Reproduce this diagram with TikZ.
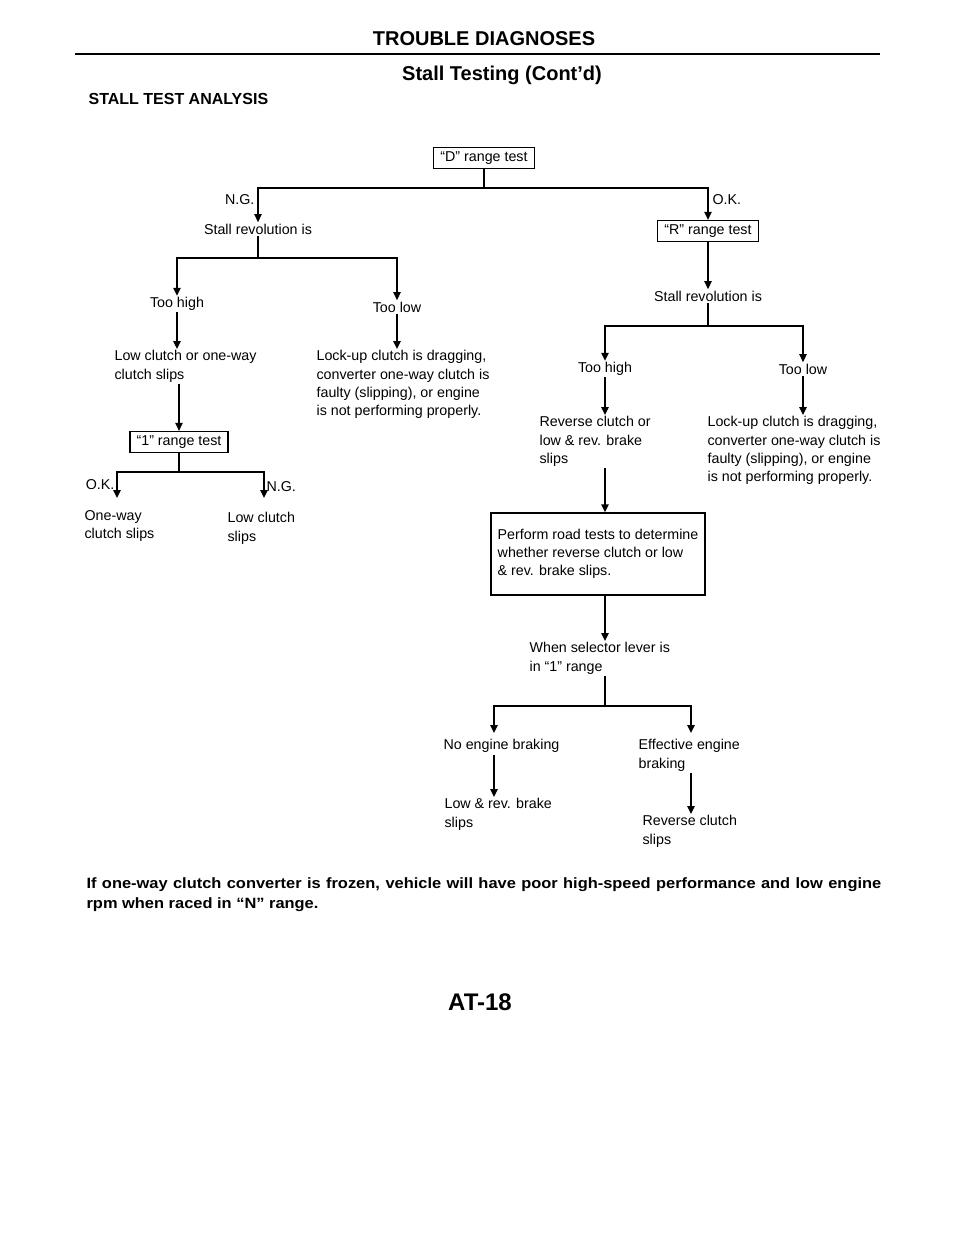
\documentclass[tikz,border=0pt]{standalone}
\usepackage{fontspec}
\setmainfont{Liberation Sans}
\newfontfamily\headfont{Liberation Sans}
\newfontfamily\notefont[FakeStretch=1.1]{Liberation Sans}
\usetikzlibrary{arrows.meta}

\begin{document}
\begin{tikzpicture}[x=0.75pt, y=-0.75pt,
    every node/.style={align=left, inner sep=1pt, font=\fontsize{10.7}{13.6}\selectfont},
    testbox/.style={draw, line width=1.1pt, inner xsep=5pt, inner ysep=3pt},
    flow/.style={line width=1.1pt, -{Triangle[width=5.5pt,length=6pt]}},
    link/.style={line width=1.1pt}]

\useasboundingbox (0,0) rectangle (960,1242);

% headings ---
\node (title) at (484,39) {\headfont\bfseries\fontsize{15}{18}\selectfont TROUBLE DIAGNOSES};
\coordinate (ruleL) at (75,54);
\coordinate (ruleR) at (880,54);
\draw [line width=2.2pt] (ruleL) -- (ruleR);
\node (subtitle) at (502,75) {\headfont\bfseries\fontsize{15}{18}\selectfont Stall Testing (Cont’d)};
\node (analysis) [anchor=west] at (87,99) {\headfont\bfseries\fontsize{12}{14}\selectfont STALL TEST ANALYSIS};

% "D" range test ---
\node (dtest) [testbox] at (484,158) {“D” range test};
\coordinate (dsplit) at (484,188);
\node (stallL) at (258,229) {Stall revolution is};
\node (rtest) [testbox] at (708,231) {“R” range test};
\node (ngD) [anchor=east] at (256,200) {N.G.};
\node (okD) [anchor=west] at (711,200) {O.K.};
\draw [link] (dtest) -- (dsplit);
\draw [flow] (dsplit) -| (stallL);
\draw [flow] (dsplit) -| (rtest);

% left half: N.G. in "D" ---
\coordinate (sL) at (258,258);
\node (tooHighL) at (177,304) {Too high};
\node (tooLowL) at (397,307) {Too low};
\draw [link] (stallL) -- (sL);
\draw [flow] (sL) -| (tooHighL);
\draw [flow] (sL) -| (tooLowL);

\node (lowOneway) [anchor=north west] at (113,349) {Low clutch or one-way\\clutch slips};
\node (lockL) [anchor=north west] at (315,349) {Lock-up clutch is dragging,\\converter one-way clutch is\\faulty (slipping), or engine\\is not performing properly.};
\draw [flow] (tooHighL) -- (tooHighL |- lowOneway.north);
\draw [flow] (tooLowL) -- (tooLowL |- lockL.north);

\node (onetest) [testbox] at (179,442) {“1” range test};
\draw [flow] (lowOneway.south -| onetest) -- (onetest);
\coordinate (s1) at (179,472);
\coordinate (okTip) at (117,498);
\coordinate (ngTip) at (264,498);
\node (okOne) [anchor=east] at (116,485) {O.K.};
\node (ngOne) [anchor=west] at (265,487) {N.G.};
\node (oneway) [anchor=north west] at (83,509) {One-way\\clutch slips};
\node (lowClutch) [anchor=north west] at (226,511) {Low clutch\\slips};
\draw [link] (onetest) -- (s1);
\draw [flow] (s1) -| (okTip);
\draw [flow] (s1) -| (ngTip);

% right half: O.K. in "D" ---
\node (stallR) at (708,296) {Stall revolution is};
\draw [flow] (rtest) -- (stallR);
\coordinate (sR) at (708,326);
\node (tooHighR) at (605,369) {Too high};
\node (tooLowR) at (803,369) {Too low};
\draw [link] (stallR) -- (sR);
\draw [flow] (sR) -| (tooHighR);
\draw [flow] (sR) -| (tooLowR);

\node (reverse) [anchor=north west] at (538,415) {Reverse clutch or\\low \& rev. brake\\slips};
\node (lockR) [anchor=north west] at (706,415) {Lock-up clutch is dragging,\\converter one-way clutch is\\faulty (slipping), or engine\\is not performing properly.};
\draw [flow] (tooHighR) -- (tooHighR |- reverse.north);
\draw [flow] (tooLowR) -- (tooLowR |- lockR.north);

\node (road) [draw, line width=1.1pt, minimum width=160.5pt, minimum height=61.5pt, inner xsep=3pt] at (598,554)
  {Perform road tests to determine\\whether reverse clutch or low\\\& rev. brake slips.};
\draw [flow] (reverse.south -| tooHighR) -- (road.north -| tooHighR);

\node (selector) [anchor=north west] at (528,641) {When selector lever is\\in “1” range};
\draw [flow] (road.south -| tooHighR) -- (selector.north -| tooHighR);
\coordinate (sW) at (605,706);
\coordinate (noTip) at (494,733);
\coordinate (effTip) at (691,733);
\draw [link] (selector.south -| tooHighR) -- (sW);
\draw [flow] (sW) -| (noTip);
\draw [flow] (sW) -| (effTip);

\node (noBrake) [anchor=north west] at (442,738) {No engine braking};
\node (effBrake) [anchor=north west] at (637,738) {Effective engine\\braking};
\node (lowRev) [anchor=north west] at (443,797) {Low \& rev. brake\\slips};
\node (revClutch) [anchor=north west] at (641,814) {Reverse clutch\\slips};
\draw [flow] (noBrake.south -| noTip) -- (lowRev.north -| noTip);
\draw [flow] (effBrake.south -| effTip) -- (revClutch.north -| effTip);

% note and page number ---
\node (note) [anchor=north west, text width=596pt, align=justify,
    font=\notefont\bfseries\fontsize{11.2}{15}\selectfont] at (85,876)
  {If one-way clutch converter is frozen, vehicle will have poor high-speed performance and low engine\linebreak rpm when raced in “N” range.};
\node (page) at (480,1002) {\headfont\bfseries\fontsize{18}{20}\selectfont AT-18};

\end{tikzpicture}
\end{document}
